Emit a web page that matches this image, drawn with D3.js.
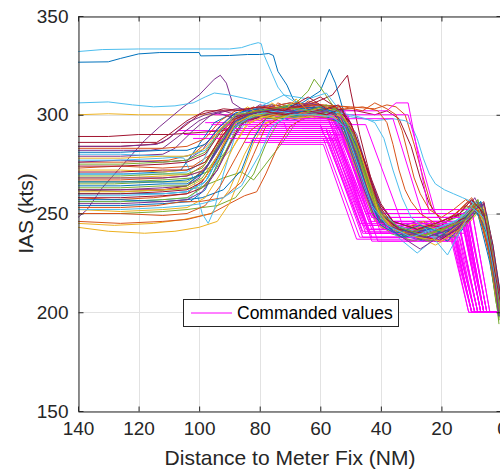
<!DOCTYPE html>
<html><head><meta charset="utf-8">
<script src="https://cdn.jsdelivr.net/npm/d3@7"></script>
<style>
body{margin:0;background:#fff;}
svg{display:block;font-family:"Liberation Sans",Arial,Helvetica,sans-serif;}
</style>
</head><body>
<svg id="chart" width="500" height="470"></svg>
<script>
// ---------------- data ----------------
const xTicks = [140, 120, 100, 80, 60, 40, 20, 0];
const yTicks = [150, 200, 250, 300, 350];
const xLabel = "Distance to Meter Fix (NM)";
const yLabel = "IAS (kts)";
const legendLabel = "Commanded values";

// actual IAS tracks: [distance NM, IAS kts]
const actualSet1 = [
  [[140,326.6],[130,326.8],[126,328.5],[120,330.8],[113,331.5],[100,331.5],[99.5,329.8],[90,330],[84,330.5],[80,330.5],[77,331],[75.5,330],[74,322],[71,315],[69,308],[66,304],[60,303],[54,301],[50,286],[45,260],[41,246],[33,240],[24,243],[16,240],[11,250],[7,252],[4,228],[1,202]],
  [[140,258],[128,257],[115,258],[104,260],[98,268],[93,282],[89,295],[84,300],[80,297],[75,301],[70,298],[66,303],[62,299],[58,301],[54,296],[49,275],[44,255],[40,244],[33,238],[25,242],[18,236],[12,246],[8,254],[5,242],[2,210],[0,198]],
  [[140,300],[130,300.5],[120,300],[105,300],[95,300],[86,300],[80,301],[70,302],[60,301],[54,300],[50,292],[45,268],[41,248],[35,240],[25,238],[15,242],[10,252],[6,248],[3,220],[0,203]],
  [[140,248],[137,252],[132,263],[125,275],[118,287],[113,294],[106,303],[100,310],[95,318],[93,320],[91,316],[89,306],[85,302],[78,301],[70,300],[60,299],[55,297],[50,280],[45,258],[40,243],[30,236],[20,240],[13,248],[8,256],[5,240],[2,212],[0,200]],
  [[140,262],[125,261],[110,262],[100,263],[92,268],[86,271],[82,267],[78,275],[72,287],[68,296],[62,300],[56,302],[52,295],[47,270],[42,250],[36,242],[28,238],[20,244],[14,250],[9,256],[5,236],[1,196]],
  [[140,332],[132,333],[120,333.3],[100,333.3],[90,333.3],[86,334],[83,335.5],[80.5,336.5],[79.5,336],[78.5,330],[76,321],[74,314],[72,310],[68,306],[62,305],[56,300],[52,290],[46,262],[41,246],[34,240],[24,243],[16,245],[10,254],[6,246],[3,218],[0,200]],
  [[140,289],[130,289],[120,290],[110,290],[100,291],[92,292],[85,296],[78,300],[70,303],[62,305],[56,302],[52,292],[47,268],[42,250],[36,242],[28,240],[20,245],[13,250],[8,254],[4,228],[1,200]],
  [[140,270],[125,270],[112,271],[106,272],[100,285],[95,296],[90,300],[84,297],[78,302],[70,297],[62,300],[56,298],[51,285],[46,262],[42,247],[35,240],[26,236],[18,242],[12,250],[8,250],[4,225],[1,199]],
  [[140,276],[125,276],[110,277],[102,280],[96,288],[90,297],[82,302],[70,304],[60,305],[50,304],[42,303],[38,305],[35,304],[32,300],[29,285],[26,268],[23,252],[19,245],[14,252],[10,258],[6,248],[3,218],[0,203]],
  [[140,245],[128,244],[115,245],[105,247],[96,250],[90,262],[85,280],[80,294],[72,300],[64,298],[57,300],[52,292],[47,270],[43,252],[38,243],[30,240],[22,234],[15,240],[10,248],[6,254],[3,230],[0,205]],
  [[140,282],[125,282],[116,282],[112,283],[106,290],[100,297],[94,301],[88,298],[82,303],[75,300],[66,303],[58,300],[53,296],[48,276],[43,255],[38,242],[30,238],[22,244],[15,240],[10,250],[6,252],[3,222],[0,197]],
  [[140,265],[128,265],[114,266],[104,266],[98,272],[93,285],[88,296],[80,302],[70,305],[62,302],[55,303],[50,290],[45,265],[41,248],[34,240],[26,244],[18,238],[12,248],[8,257],[5,240],[2,205],[0,194]],
  [[140,306],[130,306.5],[122,305],[115,304],[108,304.5],[102,306],[98,309],[95,311],[90,310],[84,308],[76,305],[68,303],[60,304],[55,302],[50,288],[45,265],[40,248],[33,240],[25,236],[18,240],[12,246],[8,254],[4,232],[1,200]],
  [[140,262],[126,262],[112,262],[104,264],[97,275],[92,290],[86,300],[76,302],[66,304],[56,303],[48,302],[42,300],[38,302],[34,298],[30,284],[27,268],[24,255],[20,246],[15,250],[11,256],[7,252],[3,225],[0,202]]
];
const actualSet2 = [
  [[140,254],[126,254],[112,255],[103,256],[98,262],[94,275],[90,290],[85,298],[76,300],[66,298],[58,301],[52,298],[48,284],[43,262],[39,246],[31,240],[23,236],[16,242],[11,250],[7,256],[4,236],[1,204]],
  [[140,273],[126,274],[112,273],[102,274],[96,280],[92,292],[87,300],[82,304],[78,300],[74,306],[68,302],[64,307],[60,305],[54,300],[49,284],[44,262],[40,248],[32,242],[24,246],[17,240],[12,250],[8,255],[4,230],[1,200]],
  [[140,268],[126,268],[112,269],[102,270],[95,274],[89,283],[84,295],[78,300],[68,298],[60,300],[54,297],[50,280],[45,258],[41,244],[33,238],[25,240],[17,236],[11,245],[7,252],[4,232],[1,198]],
  [[140,279],[126,279],[112,280],[108,283],[102,292],[96,300],[88,303],[80,303],[70,306],[62,303],[55,304],[51,292],[46,270],[42,250],[36,242],[28,246],[20,242],[13,248],[9,258],[5,246],[2,210],[0,196]],
  [[140,250],[126,250],[112,251],[104,252],[99,253],[94,254],[88,258],[82,270],[78,285],[74,296],[70,300],[62,298],[56,299],[52,292],[47,270],[43,250],[37,240],[29,236],[21,240],[14,246],[9,253],[5,238],[2,208],[0,193]],
  [[140,256],[126,256],[112,257],[103,258],[97,268],[92,284],[87,296],[80,300],[70,302],[60,300],[50,299],[42,297],[36,298],[32,297],[30,295],[28,288],[26,278],[24,270],[22,265],[19,262],[16,260],[13,258],[10,256],[7,250],[4,232],[1,205]],
  [[140,284],[126,284],[116,285],[112,286],[105,294],[100,300],[92,303],[85,302],[76,305],[68,303],[60,309],[55,304],[50,296],[45,275],[40,255],[35,244],[28,240],[20,244],[14,250],[10,257],[6,250],[3,222],[0,200]],
  [[140,260],[126,260],[112,260],[104,261],[98,266],[93,280],[88,295],[82,300],[72,302],[64,300],[57,302],[52,298],[47,278],[42,256],[38,244],[30,238],[22,242],[15,238],[10,248],[6,255],[3,234],[0,204]],
  [[140,246],[126,245],[112,246],[104,247],[96,250],[90,255],[85,259],[81,261],[78,270],[74,284],[70,294],[64,300],[58,298],[53,296],[49,282],[44,260],[40,246],[32,240],[24,244],[16,240],[11,248],[7,254],[4,238],[1,203]],
  [[140,243],[130,241],[118,240],[108,241],[100,243],[94,246],[90,255],[86,270],[82,286],[78,296],[70,300],[62,302],[56,300],[51,288],[46,266],[42,250],[36,242],[28,238],[20,242],[13,246],[9,253],[5,240],[2,212],[0,198]],
  [[140,276],[126,277],[112,276],[104,277],[99,282],[94,293],[89,300],[80,304],[72,302],[64,305],[57,302],[53,300],[48,282],[44,262],[40,248],[33,240],[25,236],[18,240],[12,246],[8,254],[5,244],[2,214],[0,197]],
  [[140,266],[126,266],[112,267],[102,268],[96,272],[91,282],[86,296],[80,300],[72,298],[64,301],[58,303],[54,302],[50,290],[45,266],[41,248],[34,238],[26,242],[18,246],[12,250],[8,257],[4,236],[1,194]],
  [[140,280],[126,280],[112,279],[105,278],[102,268],[99,250],[97,245],[95,252],[92,270],[88,290],[82,300],[72,304],[62,302],[56,300],[52,290],[47,268],[42,250],[36,240],[28,230],[20,240],[14,248],[9,255],[5,244],[2,214],[0,198]],
  [[140,258],[126,258],[112,259],[104,260],[99,263],[94,272],[90,285],[86,296],[78,300],[70,303],[62,306],[56,310],[53,316],[51,320],[50,312],[47,290],[43,266],[39,248],[33,242],[26,246],[19,240],[13,248],[9,255],[5,246],[2,216],[0,200]]
];
const actualSet3 = [
  [[140,264],[126,264],[112,265],[104,265],[99,270],[94,283],[89,296],[82,301],[74,303],[66,306],[60,312],[57,323],[55,316],[52,300],[48,280],[43,258],[39,245],[32,238],[24,242],[17,238],[11,247],[7,254],[4,232],[1,200]],
  [[140,253],[126,253],[114,254],[106,256],[100,256],[92,258],[86,266],[82,280],[78,294],[72,300],[68,302],[60,300],[54,301],[50,292],[45,270],[41,252],[36,243],[28,239],[20,236],[14,242],[9,251],[5,246],[2,218],[0,196]],
  [[140,272],[126,272],[112,271],[104,272],[98,276],[93,288],[88,298],[80,300],[72,302],[64,300],[58,303],[53,300],[49,288],[44,266],[40,250],[34,242],[26,246],[18,240],[12,246],[8,253],[4,234],[1,200]],
  [[140,262],[126,262],[112,263],[104,264],[100,268],[95,280],[90,294],[84,300],[76,302],[68,300],[60,302],[55,300],[51,286],[46,264],[42,248],[35,240],[27,232],[19,240],[13,245],[9,252],[5,242],[2,210],[0,195]],
  [[140,256],[126,256],[112,257],[104,258],[98,264],[93,276],[88,292],[83,299],[75,303],[68,306],[64,312],[62,318],[60,314],[56,305],[52,298],[48,282],[43,260],[39,246],[32,240],[24,236],[17,242],[11,250],[7,255],[4,240],[1,202]],
  [[140,270],[126,270],[112,270],[104,271],[99,276],[94,290],[89,298],[82,302],[74,300],[66,303],[60,300],[55,302],[50,292],[46,272],[42,254],[38,245],[30,240],[22,238],[15,244],[10,252],[6,246],[3,224],[0,202]],
  [[140,274],[126,274],[112,275],[104,276],[98,280],[93,291],[88,299],[80,302],[70,300],[62,303],[56,301],[52,294],[47,272],[43,254],[38,244],[31,240],[23,244],[16,240],[10,248],[6,255],[3,230],[0,200]],
  [[140,257],[126,257],[112,256],[104,257],[99,258],[92,262],[86,272],[82,288],[78,298],[72,298],[64,301],[58,299],[53,296],[49,280],[44,258],[40,244],[33,238],[25,242],[18,236],[12,246],[8,254],[5,244],[2,212],[0,197]],
  [[140,267],[126,267],[112,268],[104,269],[98,275],[93,288],[88,298],[80,303],[70,306],[60,305],[52,304],[46,302],[42,306],[38,303],[35,300],[33,292],[31,280],[29,268],[27,260],[24,252],[20,248],[16,252],[12,257],[8,252],[4,230],[1,204]],
  [[140,252],[126,251],[112,252],[104,253],[98,258],[93,270],[88,286],[84,296],[76,300],[68,298],[60,300],[54,298],[49,286],[45,266],[41,250],[35,242],[27,238],[19,242],[13,248],[9,256],[5,242],[2,208],[0,195]],
  [[140,284],[126,284],[114,285],[110,288],[104,296],[98,300],[92,302],[86,299],[80,305],[72,303],[64,306],[58,304],[53,302],[48,290],[44,270],[40,254],[36,246],[28,242],[20,238],[14,244],[9,253],[5,248],[2,220],[0,199]],
  [[140,269],[126,269],[112,270],[104,270],[99,273],[94,284],[89,295],[83,300],[75,298],[67,302],[60,300],[55,303],[51,296],[47,278],[43,258],[39,246],[32,240],[24,243],[16,238],[11,246],[7,253],[4,236],[1,196]],
  [[140,277],[126,277],[112,278],[104,279],[98,282],[93,292],[88,300],[80,304],[72,310],[64,308],[58,311],[54,303],[49,290],[44,268],[40,252],[35,244],[27,240],[19,244],[13,248],[9,256],[5,250],[2,222],[0,200]],
  [[140,260],[126,260],[112,261],[104,262],[99,266],[94,278],[89,292],[84,300],[76,302],[68,304],[60,302],[55,304],[50,296],[45,274],[41,255],[36,244],[29,240],[21,236],[15,242],[10,250],[6,256],[3,234],[0,203]]
];
const actualSet4 = [
  [[140,281],[126,281],[112,282],[104,282],[98,285],[93,294],[88,301],[80,303],[72,301],[64,304],[58,302],[53,300],[48,284],[43,262],[39,248],[33,242],[25,238],[17,242],[11,250],[7,256],[4,238],[1,198]],
  [[140,250],[126,250],[112,249],[104,250],[98,254],[93,264],[88,278],[83,292],[77,299],[70,302],[62,300],[57,302],[53,300],[49,292],[45,272],[41,254],[36,243],[28,238],[20,242],[13,246],[9,254],[5,246],[2,216],[0,194]],
  [[140,278],[126,278],[112,279],[104,279],[98,283],[93,293],[88,300],[84,304],[80,300],[76,306],[72,302],[68,308],[64,302],[58,304],[54,300],[49,284],[44,262],[40,248],[34,240],[26,244],[18,240],[12,247],[8,255],[4,236],[1,201]],
  [[140,255],[126,255],[112,256],[104,257],[99,261],[94,272],[89,287],[85,297],[78,300],[70,302],[62,300],[56,302],[52,294],[47,272],[43,254],[38,244],[30,240],[22,236],[15,242],[10,250],[6,255],[3,230],[0,199]],
  [[140,263],[126,263],[112,264],[104,264],[99,268],[94,279],[89,293],[84,299],[76,301],[68,299],[60,302],[55,300],[50,290],[45,268],[41,250],[35,241],[27,238],[19,242],[13,248],[9,255],[5,244],[2,212],[0,193]],
  [[140,259],[126,259],[112,260],[104,261],[98,266],[93,280],[88,294],[82,300],[74,302],[66,300],[58,302],[50,300],[45,298],[42,296],[39,288],[36,272],[33,258],[30,248],[25,242],[18,229],[12,246],[8,254],[4,240],[1,206]],
  [[140,271],[126,271],[112,272],[104,272],[98,276],[93,288],[88,298],[80,302],[72,300],[64,302],[58,300],[53,303],[49,290],[44,266],[40,250],[34,242],[26,240],[18,244],[12,248],[8,255],[4,240],[1,204]],
  [[140,266],[126,266],[112,266],[104,267],[99,270],[94,282],[89,295],[84,300],[76,303],[68,301],[60,304],[55,301],[50,288],[45,264],[41,248],[35,240],[27,244],[19,240],[13,246],[9,253],[5,240],[2,210],[0,196]],
  [[140,283],[126,283],[112,283],[104,284],[98,288],[93,297],[88,302],[80,304],[70,303],[60,305],[52,303],[46,304],[41,302],[38,296],[36,285],[34,272],[32,262],[30,256],[27,250],[22,245],[17,248],[12,254],[8,252],[4,228],[1,200]],
  [[140,261],[126,261],[112,262],[104,263],[98,268],[93,282],[88,296],[82,300],[74,298],[66,301],[58,299],[53,300],[49,292],[45,272],[41,252],[36,242],[28,238],[20,236],[14,242],[10,251],[6,253],[3,228],[0,198]],
  [[140,268],[126,268],[112,268],[104,269],[98,272],[93,284],[88,297],[82,301],[74,303],[66,300],[58,302],[53,298],[48,280],[44,260],[40,246],[33,240],[25,238],[17,242],[11,248],[7,255],[4,238],[1,198]],
  [[140,275],[126,275],[112,276],[104,277],[98,281],[93,292],[88,300],[80,302],[72,304],[64,302],[58,305],[54,302],[49,290],[44,266],[40,250],[34,243],[26,239],[18,243],[12,247],[8,255],[5,248],[2,215],[0,193]],
  [[140,252],[126,252],[112,253],[104,254],[99,255],[92,258],[86,264],[80,280],[76,294],[70,300],[62,300],[56,299],[52,294],[47,272],[43,254],[38,244],[30,238],[22,242],[15,246],[10,253],[6,248],[3,224],[0,200]],
  [[140,286],[126,286],[114,286],[110,290],[104,297],[98,302],[88,302],[80,304],[72,302],[64,309],[58,303],[54,305],[50,296],[45,275],[41,256],[36,246],[28,242],[20,246],[14,250],[10,257],[6,250],[3,226],[0,200]]
];

// commanded speed profiles: [distance NM, IAS kts]
const commandedSetA = [
  [[107,292],[58,292],[46,244],[15,244],[9,200],[0,200]],
  [[105,290],[56,290],[44,240],[16,240],[10,200],[0,200]],
  [[98,296],[72,296],[71,292],[55,292],[43,242],[14,242],[8,200],[0,200]],
  [[95,300],[57,300],[44,246],[13,246],[7,200],[0,200]],
  [[92,288],[59,288],[47,238],[17,238],[11,200],[0,200]],
  [[90,298],[54,298],[41,245],[12,245],[6,200],[0,200]],
  [[88,295],[60,295],[59,290],[53,290],[41,236],[15,236],[9,200],[0,200]],
  [[86,302],[52,302],[39,248],[11,248],[5,200],[0,200]],
  [[85,286],[57,286],[46,240],[16,240],[10,200],[0,200]],
  [[84,294],[55,294],[43,244],[13,244],[7,200],[0,200]],
  [[82,300],[58,300],[45,250],[12,250],[6,200],[0,200]],
  [[80,292],[56,292],[44,242],[14,242],[8,200],[0,200]],
  [[79,297],[53,297],[40,243],[12,243],[6,200],[0,200]],
  [[78,289],[58,289],[46,238],[15,238],[9,200],[0,200]],
  [[77,296],[54,296],[42,246],[11,246],[5,200],[0,200]],
  [[76,292],[57,292],[45,240],[17,240],[10,200],[0,200]],
  [[75,299],[55,299],[43,248],[13,248],[7,200],[0,200]],
  [[74,285],[59,285],[48,237],[16,237],[10,200],[0,200]],
  [[73,294],[52,294],[40,240],[12,240],[6,200],[0,200]]
];
const commandedSetB = [
  [[72,298],[56,298],[43,252],[10,252],[4,200],[0,200]],
  [[70,302],[38,302],[35,306],[31,306],[24,250],[12,250],[6,200],[0,200]],
  [[68,300],[40,300],[31,300],[22,250],[11,250],[5,200],[0,200]],
  [[70,290],[57,290],[45,244],[14,244],[8,200],[0,200]],
  [[68,296],[54,296],[42,240],[15,240],[9,200],[0,200]],
  [[66,293],[53,293],[41,246],[12,246],[6,200],[0,200]],
  [[65,288],[56,288],[45,242],[16,242],[10,200],[0,200]],
  [[64,300],[51,300],[39,246],[13,246],[7,200],[0,200]],
  [[90,291],[55,291],[43,238],[14,238],[8,200],[0,200]],
  [[87,297],[57,297],[44,250],[12,250],[6,200],[0,200]],
  [[83,287],[54,287],[43,236],[15,236],[9,200],[0,200]],
  [[81,301],[56,301],[43,248],[11,248],[5,200],[0,200]],
  [[80,295],[45,295],[33,245],[13,245],[7,200],[0,200]],
  [[93,293],[58,293],[46,241],[17,241],[11,200],[0,200]],
  [[62,299],[52,299],[40,252],[10,252],[4,200],[0,200]],
  [[60,294],[50,294],[38,243],[14,243],[8,200],[0,200]],
  [[72,298],[36,298],[26,248],[13,248],[7,200],[0,200]],
  [[102,288],[55,288],[44,240],[16,240],[10,200],[0,200]],
  [[96,295],[60,295],[47,245],[12,245],[6,200],[0,200]]
];

// ---------------- drawing ----------------
const actualTracks = [...actualSet1, ...actualSet2, ...actualSet3, ...actualSet4];
const commandedTracks = [...commandedSetA, ...commandedSetB];
const colorOrder = ["#0072BD","#D95319","#EDB120","#7E2F8E","#77AC30","#4DBEEE","#A2142F"];
const commandedColor = "#FF00FF";
const axisColor = "#262626";

const pLeft = 78, pTop = 16, pRight = 502, pBottom = 411;

const svg = d3.select("#chart");
const x = d3.scaleLinear().domain([140, 0]).range([pLeft, pRight]);
const y = d3.scaleLinear().domain([150, 350]).range([pBottom, pTop]);

svg.append("defs").append("clipPath").attr("id", "plotclip")
  .append("rect").attr("x", pLeft).attr("y", pTop)
  .attr("width", pRight - pLeft).attr("height", pBottom - pTop);

// grid
const grid = svg.append("g");
grid.selectAll("line.gx").data(xTicks).join("line").attr("class", "gx")
  .attr("x1", d => Math.round(x(d)) + 0.5).attr("x2", d => Math.round(x(d)) + 0.5)
  .attr("y1", pTop).attr("y2", pBottom)
  .attr("stroke", "#e2e2e2").attr("stroke-width", 1);
grid.selectAll("line.gy").data(yTicks).join("line").attr("class", "gy")
  .attr("y1", d => Math.round(y(d)) + 0.5).attr("y2", d => Math.round(y(d)) + 0.5)
  .attr("x1", pLeft).attr("x2", pRight)
  .attr("stroke", "#e2e2e2").attr("stroke-width", 1);

// lines
const lineGen = d3.line().x(d => x(d[0])).y(d => y(d[1]));
const plot = svg.append("g").attr("clip-path", "url(#plotclip)");
const n = Math.max(actualTracks.length, commandedTracks.length);
for (let i = 0; i < n; i++) {
  if (i < actualTracks.length) {
    plot.append("path").datum(actualTracks[i])
      .attr("d", lineGen).attr("fill", "none")
      .attr("stroke", colorOrder[i % colorOrder.length])
      .attr("stroke-width", 1).attr("stroke-linejoin", "round");
  }
  if (i < commandedTracks.length) {
    plot.append("path").datum(commandedTracks[i])
      .attr("d", lineGen).attr("fill", "none")
      .attr("stroke", commandedColor)
      .attr("stroke-width", 1);
  }
}

// axes (MATLAB-style box with inward ticks)
const tickLen = 5;
const xAxisB = d3.axisBottom(x).tickValues(xTicks).tickSizeInner(-tickLen).tickSizeOuter(0).tickPadding(10);
const xAxisT = d3.axisTop(x).tickValues(xTicks).tickSizeInner(-tickLen).tickSizeOuter(0).tickFormat("");
const yAxisL = d3.axisLeft(y).tickValues(yTicks).tickSizeInner(-tickLen).tickSizeOuter(0).tickPadding(10);
const yAxisR = d3.axisRight(y).tickValues(yTicks).tickSizeInner(-tickLen).tickSizeOuter(0).tickFormat("");

function styleAxis(g) {
  g.attr("font-size", null).attr("font-family", null);
  g.select(".domain").attr("stroke", axisColor).attr("stroke-width", 1);
  g.selectAll(".tick line").attr("stroke", axisColor).attr("stroke-width", 1);
  g.selectAll(".tick text").attr("fill", axisColor)
    .style("font-size", "19px").style("font-family", '"Liberation Sans",Arial,sans-serif');
}
svg.append("g").attr("transform", `translate(0,${pBottom + 0.5})`).call(xAxisB).call(styleAxis);
svg.append("g").attr("transform", `translate(0,${pTop + 0.5})`).call(xAxisT).call(styleAxis);
svg.append("g").attr("transform", `translate(${pLeft + 0.5},0)`).call(yAxisL).call(styleAxis);
svg.append("g").attr("transform", `translate(${pRight - 0.5},0)`).call(yAxisR).call(styleAxis);

// axis labels
svg.append("text")
  .attr("x", (pLeft + pRight) / 2).attr("y", 465)
  .attr("text-anchor", "middle").attr("fill", axisColor)
  .style("font-size", "21px").text(xLabel);
svg.append("text")
  .attr("transform", `translate(33,${(pTop + pBottom) / 2}) rotate(-90)`)
  .attr("text-anchor", "middle").attr("fill", axisColor)
  .style("font-size", "21px").text(yLabel);

// legend
const lg = svg.append("g");
lg.append("rect").attr("x", 183.5).attr("y", 299.5).attr("width", 215).attr("height", 27)
  .attr("fill", "#fff").attr("stroke", axisColor).attr("stroke-width", 1);
lg.append("line").attr("x1", 191).attr("x2", 232).attr("y1", 313).attr("y2", 313)
  .attr("stroke", commandedColor).attr("stroke-width", 1);
lg.append("text").attr("x", 237).attr("y", 313).attr("dy", "0.35em")
  .attr("fill", "#000").style("font-size", "17.5px").text(legendLabel);
</script>
</body></html>
